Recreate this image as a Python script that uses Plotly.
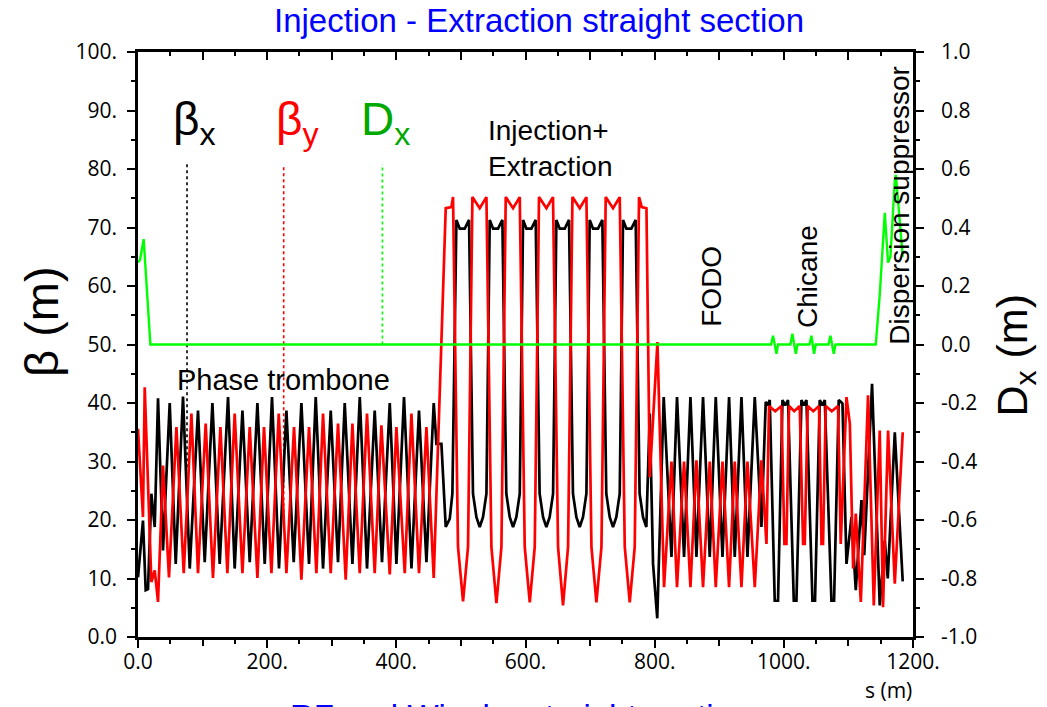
import plotly.graph_objects as go

# ---------------- data (s in m, beta in m, Dx in m) ----------------
bx_pts = [
    (0.0, 10.2), (7.7, 19.9), (11.9, 8.0), (15.5, 8.2), (20.7, 24.5), (25.9, 18.8),
    (31.0, 40.8), (38.7, 14.8), (49.1, 40.0), (58.4, 12.5), (69.7, 41.1), (80.1, 11.7),
    (92.9, 38.7), (103.3, 12.8), (115.2, 40.0), (126.5, 12.5), (139.4, 41.0), (149.7, 11.7),
    (161.7, 38.7), (173.0, 12.8), (184.9, 40.0), (196.2, 12.5), (207.5, 41.0), (218.3, 11.7),
    (229.8, 38.7), (241.1, 12.8), (253.0, 40.0), (264.8, 12.5), (275.2, 41.0), (286.5, 11.7),
    (298.4, 38.7), (309.7, 12.8), (320.1, 40.0), (332.0, 12.5), (343.4, 41.0), (354.6, 11.7),
    (366.5, 38.7), (377.8, 12.8), (389.8, 40.0), (400.1, 12.5), (411.9, 41.0), (423.4, 11.7),
    (435.1, 38.7), (446.6, 12.8), (457.9, 40.0), (462.1, 33.0), (469.8, 33.0), (476.5, 18.8),
    (482.7, 20.2), (486.8, 24.5),
    (493.0, 71.3), (498.2, 69.8), (505.9, 69.8), (512.6, 71.3), (518.7, 24.5), (524.0, 20.5),
    (529.1, 18.8), (534.2, 20.5), (539.5, 24.5),
    (544.6, 71.3), (549.8, 69.8), (557.5, 69.8), (564.2, 71.3), (570.3, 24.5), (575.6, 20.5),
    (580.7, 18.8), (585.8, 20.5), (591.1, 24.5),
    (596.2, 71.3), (601.4, 69.8), (609.1, 69.8), (615.8, 71.3), (621.9, 24.5), (627.2, 20.5),
    (632.3, 18.8), (637.4, 20.5), (642.7, 24.5),
    (647.8, 71.3), (653.0, 69.8), (660.7, 69.8), (667.4, 71.3), (673.5, 24.5), (678.8, 20.5),
    (683.9, 18.8), (689.0, 20.5), (694.3, 24.5),
    (699.4, 71.3), (704.6, 69.8), (712.3, 69.8), (719.0, 71.3), (725.1, 24.5), (730.4, 20.5),
    (735.5, 18.8), (740.6, 20.5), (745.9, 24.5),
    (751.0, 71.3), (756.2, 69.8), (763.9, 69.8), (770.6, 71.3), (776.7, 24.5), (782.0, 20.5),
    (787.1, 18.8),
    (792.4, 38.2), (797.5, 12.5), (804.0, 3.2), (814.0, 41.0), (826.0, 13.7), (834.6, 41.0),
    (845.5, 13.7), (855.4, 41.0), (864.7, 13.7), (874.9, 41.0), (885.3, 13.7), (894.6, 41.0),
    (905.0, 13.7), (915.2, 41.0), (924.0, 13.7), (934.4, 41.0), (943.7, 13.7), (955.0, 41.0),
    (965.3, 18.8), (972.0, 40.2),
    (975.1, 39.6), (978.2, 40.5), (985.9, 6.2), (991.0, 6.2), (997.9, 40.5), (1001.9, 39.6),
    (1006.5, 40.5), (1015.4, 6.2), (1019.5, 6.2), (1027.3, 40.5), (1030.8, 39.6), (1035.0, 40.5),
    (1044.3, 6.2), (1048.3, 6.2), (1055.6, 40.5), (1059.8, 39.6), (1063.4, 40.5), (1073.7, 6.2),
    (1077.8, 6.2), (1085.0, 40.5), (1088.1, 40.2), (1090.8, 39.9), (1097.0, 12.5), (1104.7, 20.5),
    (1111.4, 8.0), (1120.2, 23.4), (1124.5, 14.0), (1136.6, 43.3), (1148.5, 5.4), (1156.3, 16.5),
    (1160.9, 10.0), (1171.8, 35.0), (1184.1, 9.5),
]

by_pts = [
    (0.0, 35.6), (7.7, 20.5), (10.4, 42.7), (20.7, 9.4), (25.9, 11.4), (31.0, 6.0),
    (38.7, 29.3), (48.0, 10.2), (59.5, 35.9), (70.8, 10.9), (82.7, 38.2), (92.9, 10.9),
    (104.8, 36.5), (116.1, 10.1), (127.6, 35.9), (138.4, 10.9), (149.7, 38.2), (161.7, 10.9),
    (173.0, 35.9), (184.9, 10.1), (195.1, 35.9), (206.6, 10.9), (217.9, 38.2), (229.8, 10.9),
    (241.6, 35.9), (253.0, 9.8), (264.8, 35.9), (276.2, 10.9), (286.5, 38.2), (298.4, 10.9),
    (309.7, 36.5), (321.6, 9.8), (332.0, 36.5), (343.3, 10.9), (354.6, 38.2), (366.5, 10.9),
    (376.9, 36.2), (389.8, 10.7), (400.1, 35.9), (413.0, 10.9), (423.4, 38.2), (435.1, 10.9),
    (446.6, 35.9), (457.9, 10.1),
    (476.5, 73.3), (485.3, 73.5), (487.8, 75.2), (495.5, 15.4), (503.3, 6.1), (511.0, 15.4),
    (517.8, 75.2), (529.1, 73.3), (539.5, 75.2), (547.2, 15.4), (555.0, 5.8), (562.7, 15.4),
    (569.4, 75.2), (580.7, 73.3), (591.1, 75.2), (598.8, 15.4), (606.6, 5.9), (614.3, 15.4),
    (620.9, 75.2), (632.4, 73.3), (642.6, 75.2), (650.4, 15.4), (658.1, 5.4), (665.9, 15.4),
    (672.7, 75.2), (684.0, 73.3), (694.3, 75.2), (702.1, 15.4), (709.8, 5.9), (717.6, 15.4),
    (724.2, 75.2), (735.5, 73.3), (745.9, 75.2), (753.7, 15.4), (761.4, 5.9), (769.1, 15.4),
    (775.8, 75.2), (780.0, 73.5), (787.3, 73.3), (792.4, 27.3), (804.3, 50.4), (814.5, 8.5),
    (826.0, 30.0), (834.6, 8.5), (845.5, 30.0), (855.4, 8.5), (864.7, 30.2), (874.9, 8.5),
    (885.3, 30.0), (894.6, 8.5), (905.0, 30.0), (915.2, 8.5), (924.0, 30.0), (934.4, 8.5),
    (943.7, 30.0), (955.0, 8.5), (965.3, 30.2),
    (973.1, 15.9), (977.1, 39.5), (986.7, 38.6), (996.3, 39.5), (1000.9, 15.9), (1004.0, 15.9),
    (1008.1, 39.5), (1016.1, 38.6), (1024.6, 39.5), (1029.8, 15.9), (1032.4, 15.9), (1037.0, 39.5),
    (1045.6, 38.6), (1054.5, 39.5), (1058.3, 15.9), (1060.7, 15.9), (1064.9, 39.5), (1074.2, 38.6),
    (1083.9, 39.5), (1088.1, 15.9), (1097.0, 41.0), (1102.2, 36.5), (1107.3, 11.7), (1111.4, 21.1),
    (1119.2, 6.0), (1130.4, 41.3), (1139.3, 5.4), (1148.5, 35.3), (1153.6, 5.1), (1161.4, 35.3),
    (1171.8, 9.1), (1184.1, 35.0),
]

dx_pts = [
    (0.0, 0.28), (3.1, 0.29), (8.8, 0.36), (19.2, 0.0), (980.2, 0.0), (983.3, 0.03),
    (988.6, -0.032), (991.0, 0.0), (1010.2, 0.0), (1013.3, 0.037), (1018.5, -0.032), (1021.1, 0.0),
    (1039.7, 0.0), (1042.8, 0.03), (1046.8, -0.032), (1049.4, 0.0), (1069.1, 0.0), (1072.2, 0.03),
    (1077.3, -0.032), (1079.9, 0.0), (1142.3, 0.0), (1148.5, 0.17), (1156.3, 0.45), (1161.4, 0.28),
    (1165.1, 0.30), (1171.8, 0.56), (1173.5, 0.58), (1184.1, 0.30),
]

s_bx = [p[0] for p in bx_pts]
beta_x = [p[1] for p in bx_pts]
s_by = [p[0] for p in by_pts]
beta_y = [p[1] for p in by_pts]
s_dx = [p[0] for p in dx_pts]
disp_x = [p[1] for p in dx_pts]

x_tickvals = [0, 200, 400, 600, 800, 1000, 1200]
x_ticktext = ["0.0", "200.", "400.", "600.", "800.", "1000.", "1200."]
y_tickvals = [0, 10, 20, 30, 40, 50, 60, 70, 80, 90, 100]
y_ticktext = ["0.0", "10.", "20.", "30.", "40.", "50.", "60.", "70.", "80.", "90.", "100."]
y2_tickvals = [-1.0, -0.8, -0.6, -0.4, -0.2, 0.0, 0.2, 0.4, 0.6, 0.8, 1.0]
y2_ticktext = ["-1.0", "-0.8", "-0.6", "-0.4", "-0.2", "0.0", "0.2", "0.4", "0.6", "0.8", "1.0"]

# legend pointer lines (s position, bottom beta)
legend_s = [75.9, 225.6, 378.4]
legend_bottom = [29.0, 20.3, 50.0]
legend_top = 80.8
legend_colors = ["#000000", "#ff0000", "#00ff00"]

# ---------------- figure ----------------
fig = go.Figure()
fig.add_trace(go.Scatter(x=s_bx, y=beta_x, mode="lines", line=dict(color="#000000", width=2.7),
                         showlegend=False, hoverinfo="skip"))
fig.add_trace(go.Scatter(x=s_by, y=beta_y, mode="lines", line=dict(color="#ff0000", width=2.7),
                         showlegend=False, hoverinfo="skip"))
fig.add_trace(go.Scatter(x=s_dx, y=disp_x, mode="lines", line=dict(color="#00ff00", width=2.4),
                         yaxis="y2", showlegend=False, hoverinfo="skip"))
fig.add_trace(go.Scatter(x=[], y=[], xaxis="x2", yaxis="y", showlegend=False, hoverinfo="skip"))
fig.add_trace(go.Scatter(x=[], y=[], xaxis="x3", yaxis="y", showlegend=False, hoverinfo="skip"))

for xs, yb, c in zip(legend_s, legend_bottom, legend_colors):
    fig.add_shape(type="line", xref="x", yref="y", x0=xs, x1=xs, y0=yb, y1=legend_top,
                  line=dict(color=c, width=1.6, dash="dot"), layer="below")

tick_font = dict(family="Open Sans, Liberation Sans, sans-serif", size=21, color="#000000")
txt_font = "Liberation Sans, Arial, sans-serif"
narrow_font = "Liberation Sans Narrow, Arial Narrow, Liberation Sans, sans-serif"

fig.update_layout(
    width=1047, height=707,
    margin=dict(l=138, r=134, t=52, b=70),
    paper_bgcolor="white", plot_bgcolor="white",
    xaxis=dict(range=[0, 1200], tickmode="array", tickvals=x_tickvals, ticktext=x_ticktext,
               ticks="outside", ticklen=8, tickwidth=2, tickcolor="black",
               minor=dict(tickmode="linear", tick0=0, dtick=50, ticks="outside", ticklen=4,
                          tickwidth=2, tickcolor="black"),
               showline=True, linecolor="black", linewidth=2.5, showgrid=False, zeroline=False,
               tickfont=tick_font, ticklabelstandoff=-4),
    xaxis2=dict(range=[0, 1200], overlaying="x", side="top", anchor="y", tickmode="linear",
                tick0=0, dtick=100, ticks="inside", ticklen=8, tickwidth=2, tickcolor="black",
                minor=dict(tickmode="linear", tick0=0, dtick=50, ticks="inside", ticklen=4,
                           tickwidth=2, tickcolor="black"),
                showticklabels=False, showline=True, linecolor="black", linewidth=2.5,
                showgrid=False, zeroline=False),
    xaxis3=dict(range=[0, 1200], overlaying="x", side="bottom", anchor="y", tickmode="linear",
                tick0=0, dtick=100, ticks="outside", ticklen=8, tickwidth=2, tickcolor="black",
                showticklabels=False, showline=False, showgrid=False, zeroline=False),
    yaxis=dict(range=[0, 100], tickmode="array", tickvals=y_tickvals, ticktext=y_ticktext,
               ticks="outside", ticklen=8, tickwidth=2, tickcolor="black",
               minor=dict(tickmode="linear", tick0=0, dtick=5, ticks="outside", ticklen=4,
                          tickwidth=2, tickcolor="black"),
               showline=True, linecolor="black", linewidth=2.5, showgrid=False, zeroline=False,
               tickfont=tick_font, ticklabelstandoff=6),
    yaxis2=dict(range=[-1, 1], overlaying="y", side="right", anchor="x", tickmode="array",
                tickvals=y2_tickvals, ticktext=y2_ticktext,
                ticks="outside", ticklen=8, tickwidth=2, tickcolor="black",
                minor=dict(tickmode="linear", tick0=0, dtick=0.1, ticks="outside", ticklen=4,
                           tickwidth=2, tickcolor="black"),
                showline=True, linecolor="black", linewidth=2.5, showgrid=False, zeroline=False,
                tickfont=tick_font, ticklabelstandoff=13),
)

ann = []
# title and cut-off bottom label
ann.append(dict(text="Injection - Extraction straight section", xref="paper", yref="paper",
                x=0.517, y=1.053, xanchor="center", yanchor="middle", showarrow=False,
                font=dict(family=narrow_font, size=33, color="#0000ff")))
ann.append(dict(text="RF and Wiggler straight section", xref="paper", yref="paper",
                x=0.4925, y=-0.1001, xanchor="center", yanchor="top", showarrow=False,
                font=dict(family=narrow_font, size=33, color="#0000ff")))
# axis titles
ann.append(dict(text="β (m)", xref="paper", yref="paper", x=-0.1243, y=0.5398,
                xanchor="center", yanchor="middle", textangle=-90, showarrow=False,
                font=dict(family=txt_font, size=47, color="black")))
ann.append(dict(text="D<sub>x</sub> (m)", xref="paper", yref="paper", x=1.132, y=0.4816,
                xanchor="center", yanchor="middle", textangle=-90, showarrow=False,
                font=dict(family=txt_font, size=43, color="black")))
ann.append(dict(text="s (m)", xref="paper", yref="paper", x=0.968, y=-0.091,
                xanchor="center", yanchor="middle", showarrow=False,
                font=dict(family=tick_font["family"], size=21, color="black")))
# legend labels
ann.append(dict(text="β<sub>x</sub>", xref="x", yref="y", x=51.0, y=88.0, xanchor="left",
                yanchor="middle", showarrow=False, font=dict(family=txt_font, size=46, color="black")))
ann.append(dict(text="β<sub>y</sub>", xref="x", yref="y", x=210.5, y=88.0, xanchor="left",
                yanchor="middle", showarrow=False, font=dict(family=txt_font, size=46, color="#ff0000")))
ann.append(dict(text="D<sub>x</sub>", xref="x", yref="y", x=341.5, y=88.0, xanchor="left",
                yanchor="middle", showarrow=False, font=dict(family=txt_font, size=46, color="#00a800")))
# section labels
ann.append(dict(text="Phase trombone", xref="x", yref="y", x=57.5, y=43.9, xanchor="left",
                yanchor="middle", showarrow=False, font=dict(family=txt_font, size=29, color="black")))
ann.append(dict(text="Injection+<br>Extraction", xref="x", yref="y", x=539.2, y=83.5,
                xanchor="left", yanchor="middle", align="left", showarrow=False,
                font=dict(family=txt_font, size=28, color="black")))
ann.append(dict(text="FODO", xref="x", yref="y", x=886.8, y=60.0, xanchor="center",
                yanchor="middle", textangle=-90, showarrow=False,
                font=dict(family=txt_font, size=28, color="black")))
ann.append(dict(text="Chicane", xref="x", yref="y", x=1036.3, y=61.6, xanchor="center",
                yanchor="middle", textangle=-90, showarrow=False,
                font=dict(family=txt_font, size=28, color="black")))
ann.append(dict(text="Dispersion suppressor", xref="x", yref="y", x=1179.0, y=73.8,
                xanchor="center", yanchor="middle", textangle=-90, showarrow=False,
                font=dict(family=txt_font, size=28, color="black")))
fig.update_layout(annotations=ann)

fig.write_html("out.html")
